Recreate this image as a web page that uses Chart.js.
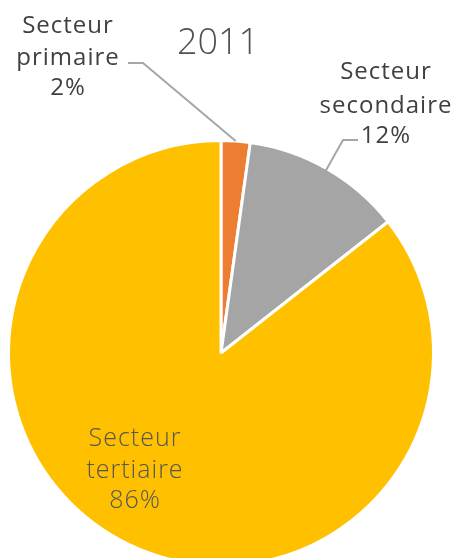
<!DOCTYPE html>
<html><head><meta charset="utf-8">
<script src="https://cdn.jsdelivr.net/npm/chart.js@4"></script>
<style>
html,body{margin:0;padding:0;background:#fff;overflow:hidden;}
#wrap{width:461px;height:580px;position:relative;}
</style></head>
<body><div id="wrap"><canvas id="c"></canvas></div>
<script>
const title = "2011";
const categories = ["Secteur primaire", "Secteur secondaire", "Secteur tertiaire"];
const labelLines = [["Secteur", "primaire"], ["Secteur", "secondaire"], ["Secteur", "tertiaire"]];
const values = [2.2, 12.2, 85.6];
const colors = ["#ED7D31", "#A5A5A5", "#FFC000"];

const labelPlugin = {
  id: 'labels',
  afterDraw(chart) {
    const ctx = chart.ctx;
    const meta = chart.getDatasetMeta(0);
    const total = values.reduce((a, b) => a + b, 0);
    const pct = values.map(v => Math.round(v / total * 100) + "%");
    ctx.save();
    // title
    ctx.fillStyle = "#505050";
    ctx.font = "300 36px 'Open Sans'";
    ctx.textAlign = "center";
    ctx.textBaseline = "middle";
    ctx.fillText(title, 218, 44);

    // leader lines
    const a0 = meta.data[0], a1 = meta.data[1];
    ctx.strokeStyle = "#A6A6A6";
    ctx.lineWidth = 2;
    function edgePoint(arc, frac, extra) {
      const ang = arc.startAngle + (arc.endAngle - arc.startAngle) * frac;
      const r = arc.outerRadius + extra;
      return [arc.x + Math.cos(ang) * r, arc.y + Math.sin(ang) * r];
    }
    let e0 = edgePoint(a0, 0.5, 0);
    ctx.beginPath(); ctx.moveTo(128, 63); ctx.lineTo(143, 63); ctx.lineTo(e0[0], e0[1]); ctx.stroke();
    let e1 = edgePoint(a1, 0.5, -2);
    ctx.beginPath(); ctx.moveTo(358, 140); ctx.lineTo(343, 140); ctx.lineTo(e1[0], e1[1]); ctx.stroke();

    // outside labels
    ctx.fillStyle = "#404040";
    ctx.font = "500 24px 'Open Sans'";
    try { ctx.letterSpacing = "1px"; } catch (e) {}
    const l0 = [...labelLines[0], pct[0]];
    const y0 = [26, 58, 88];
    l0.forEach((t, i) => ctx.fillText(t, 68, y0[i]));
    const l1 = [...labelLines[1], pct[1]];
    const y1 = [72, 106, 136];
    l1.forEach((t, i) => ctx.fillText(t, 386, y1[i]));

    // inside label
    ctx.fillStyle = "#555555";
    ctx.font = "300 25px 'Open Sans'";
    const l2 = [...labelLines[2], pct[2]];
    const y2 = [439, 471, 501];
    l2.forEach((t, i) => ctx.fillText(t, 135, y2[i]));
    ctx.restore();
  }
};

new Chart(document.getElementById('c'), {
  type: 'pie',
  data: {
    labels: categories,
    datasets: [{
      data: values,
      backgroundColor: colors,
      borderColor: "#ffffff",
      borderWidth: 3
    }]
  },
  options: {
    responsive: true,
    maintainAspectRatio: false,
    animation: false,
    layout: { padding: { left: 7, right: 26, top: 139, bottom: 13 } },
    plugins: { legend: { display: false }, tooltip: { enabled: false }, title: { display: false } }
  },
  plugins: [labelPlugin]
});
</script>
</body></html>
